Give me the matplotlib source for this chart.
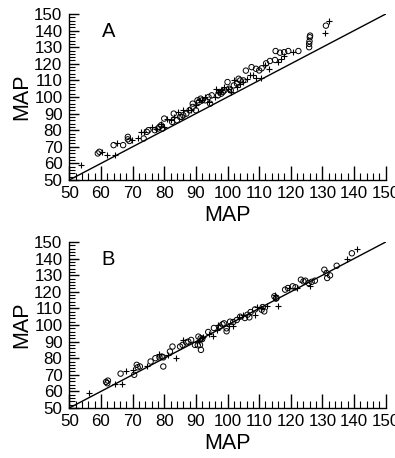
import matplotlib
matplotlib.use("Agg")
import matplotlib.pyplot as plt
from matplotlib.ticker import MultipleLocator

plt.rcParams['font.family'] = ['Liberation Sans', 'DejaVu Sans']

# Panel A data
a_circ_x = [59, 59.5, 64, 67, 68.5, 68.5, 69, 73.5, 74.5, 75, 77, 78, 78.5, 79, 79.5, 80, 82.5, 83,
            84, 85, 85.5, 86, 87, 88, 89, 89, 90, 90.5, 91, 91.5, 92, 93, 94, 94.5, 95, 97, 97.5,
            98, 98.5, 99, 100, 100.5, 101, 102, 103, 103.5, 104, 105, 105.8, 107.6, 109, 110,
            110.8, 112.2, 113.4, 115, 115.2, 116.6, 117.9, 119.2, 122.4, 125.8, 125.8, 125.9,
            126, 126.1, 131.1]
a_circ_y = [66, 67, 71, 71, 76, 74.5, 73.5, 75, 79, 80, 80, 81, 82, 83, 81, 87, 85, 90,
            86, 88, 88, 89, 90, 92, 94, 96, 92, 98, 97, 99, 98, 98, 100, 96, 101, 101, 103,
            102, 103, 104, 109, 105, 104, 107, 108, 111, 110, 110, 115.9, 118, 117, 116,
            117.3, 120.3, 121.7, 122.3, 127.7, 126.7, 127, 127.7, 127.7, 130, 132, 133.6,
            136, 137, 143]
a_plus_x = [53.7, 60.2, 61.8, 64.5, 65.2, 69.7, 71.7, 72.8, 73.5, 76, 77.5, 79, 80, 81, 82, 83,
            84.5, 86, 87.5, 88.5, 90, 91, 92, 93, 94, 96, 96.5, 97, 98, 99, 100, 101, 102, 103,
            104, 105, 106, 107, 108, 109, 110.7, 112, 113, 116, 117, 118, 120.6, 130.8, 132.2]
a_plus_y = [59, 67, 65, 65, 72.5, 74, 75.5, 79, 79, 82, 81, 84, 82, 87, 86, 88,
            91, 92, 92, 92, 95, 98, 98, 100, 97, 100, 105, 103, 104, 106, 105, 103, 110, 106,
            108, 109, 111, 113, 113, 111.7, 111.5, 119, 117, 121, 123, 125, 127, 138.4, 146]

# Panel B data
b_circ_x = [61.6, 62, 62.2, 66.2, 70.5, 71.3, 71.6, 72.3, 75.7, 77.2, 78.5, 79.2, 79.7, 79.7,
            81.8, 82.6, 85, 85.8, 87, 87.6, 88.5, 89.7, 90.6, 91.3, 91.6, 90.8, 91.5, 92, 93.9,
            95.7, 97.6, 98.4, 98.9, 99.7, 99.7, 100.8, 101.8, 102.9, 104, 105.5, 106.9, 106.3,
            108.7, 107.3, 110.8, 111.6, 111.1, 114.8, 115.5, 115.3, 118.2, 119.1, 120.6, 121.5,
            123.2, 124, 124.6, 125.6, 126.6, 127.6, 130.6, 131.3, 131.5, 132.4, 134.5, 139.3]
b_circ_y = [65.7, 64.9, 66.5, 70.7, 70, 76, 74.5, 75, 78, 80, 80.5, 81, 80.5, 75,
            84, 87, 87, 88, 89.5, 90, 91, 88, 87.8, 88, 85, 93, 92, 91.5, 95.8,
            98.2, 99, 100.4, 101, 98, 96.2, 102, 101.8, 103, 105, 104.2, 104.6, 106.2,
            109.4, 107.8, 109.2, 108.2, 110.8, 117.3, 116.3, 115.9, 121.3, 122.3, 123.3, 122.7,
            127.3, 126.3, 126.7, 125.3, 126, 126.7, 133.3, 131.3, 128.3, 129.9, 135.7, 143.2]
b_plus_x = [56.3, 64.4, 66.5, 67.9, 70, 74.4, 78.5, 81.3, 83.6, 86, 91, 91.8, 92.4, 94, 95.5,
            96.6, 97, 100.6, 101.6, 103.5, 104.8, 108.7, 109.2, 110.6, 112.4, 115, 116.1,
            119.3, 121.9, 126, 137.9, 141]
b_plus_y = [58.8, 64.5, 64.5, 72.5, 73, 75, 82.7, 82, 80, 91, 90.6, 92, 93, 94.5, 93.2,
            97, 99.8, 99.2, 99.2, 105, 105.8, 105.8, 111, 110, 111.4, 118.3, 111.2,
            122, 122.3, 123.7, 139.6, 146]

line_x = [50, 150]
line_y = [50, 150]

panels = [
    ("A", a_circ_x, a_circ_y, a_plus_x, a_plus_y, [0.1755, 0.607, 0.801, 0.3624]),
    ("B", b_circ_x, b_circ_y, b_plus_x, b_plus_y, [0.1755, 0.1092, 0.801, 0.3624]),
]

fig = plt.figure(figsize=(3.95, 4.58), dpi=100)
for letter, cx, cy, px, py, rect in panels:
    ax = fig.add_axes(rect)
    ax.plot(line_x, line_y, color='black', lw=1.0, zorder=1)
    ax.scatter(cx, cy, s=15, facecolors='none', edgecolors='black', linewidths=0.7, zorder=2)
    ax.scatter(px, py, s=16, marker='+', color='black', linewidths=0.8, zorder=2)
    ax.set_xlim(50, 150)
    ax.set_ylim(50, 150)
    for s in ['top', 'right']:
        ax.spines[s].set_visible(False)
    for s in ['left', 'bottom']:
        ax.spines[s].set_linewidth(1.0)
    ax.xaxis.set_major_locator(MultipleLocator(10))
    ax.xaxis.set_minor_locator(MultipleLocator(2))
    ax.yaxis.set_major_locator(MultipleLocator(10))
    ax.yaxis.set_minor_locator(MultipleLocator(2))
    ax.tick_params(axis='x', which='major', direction='in', length=10, width=1.0, labelsize=12.2, pad=4)
    ax.tick_params(axis='x', which='minor', direction='in', length=5, width=0.8)
    ax.tick_params(axis='y', which='major', direction='in', length=7, width=1.0, labelsize=12.2, pad=5)
    ax.tick_params(axis='y', which='minor', direction='in', length=4.5, width=0.8)
    ax.set_xlabel("MAP", fontsize=15.5, labelpad=3)
    ax.set_ylabel("MAP", fontsize=15.5, labelpad=1)
    ax.text(60.2, 136.3, letter, fontsize=14.5, ha='left', va='baseline')

fig.savefig("out.png", dpi=100)
